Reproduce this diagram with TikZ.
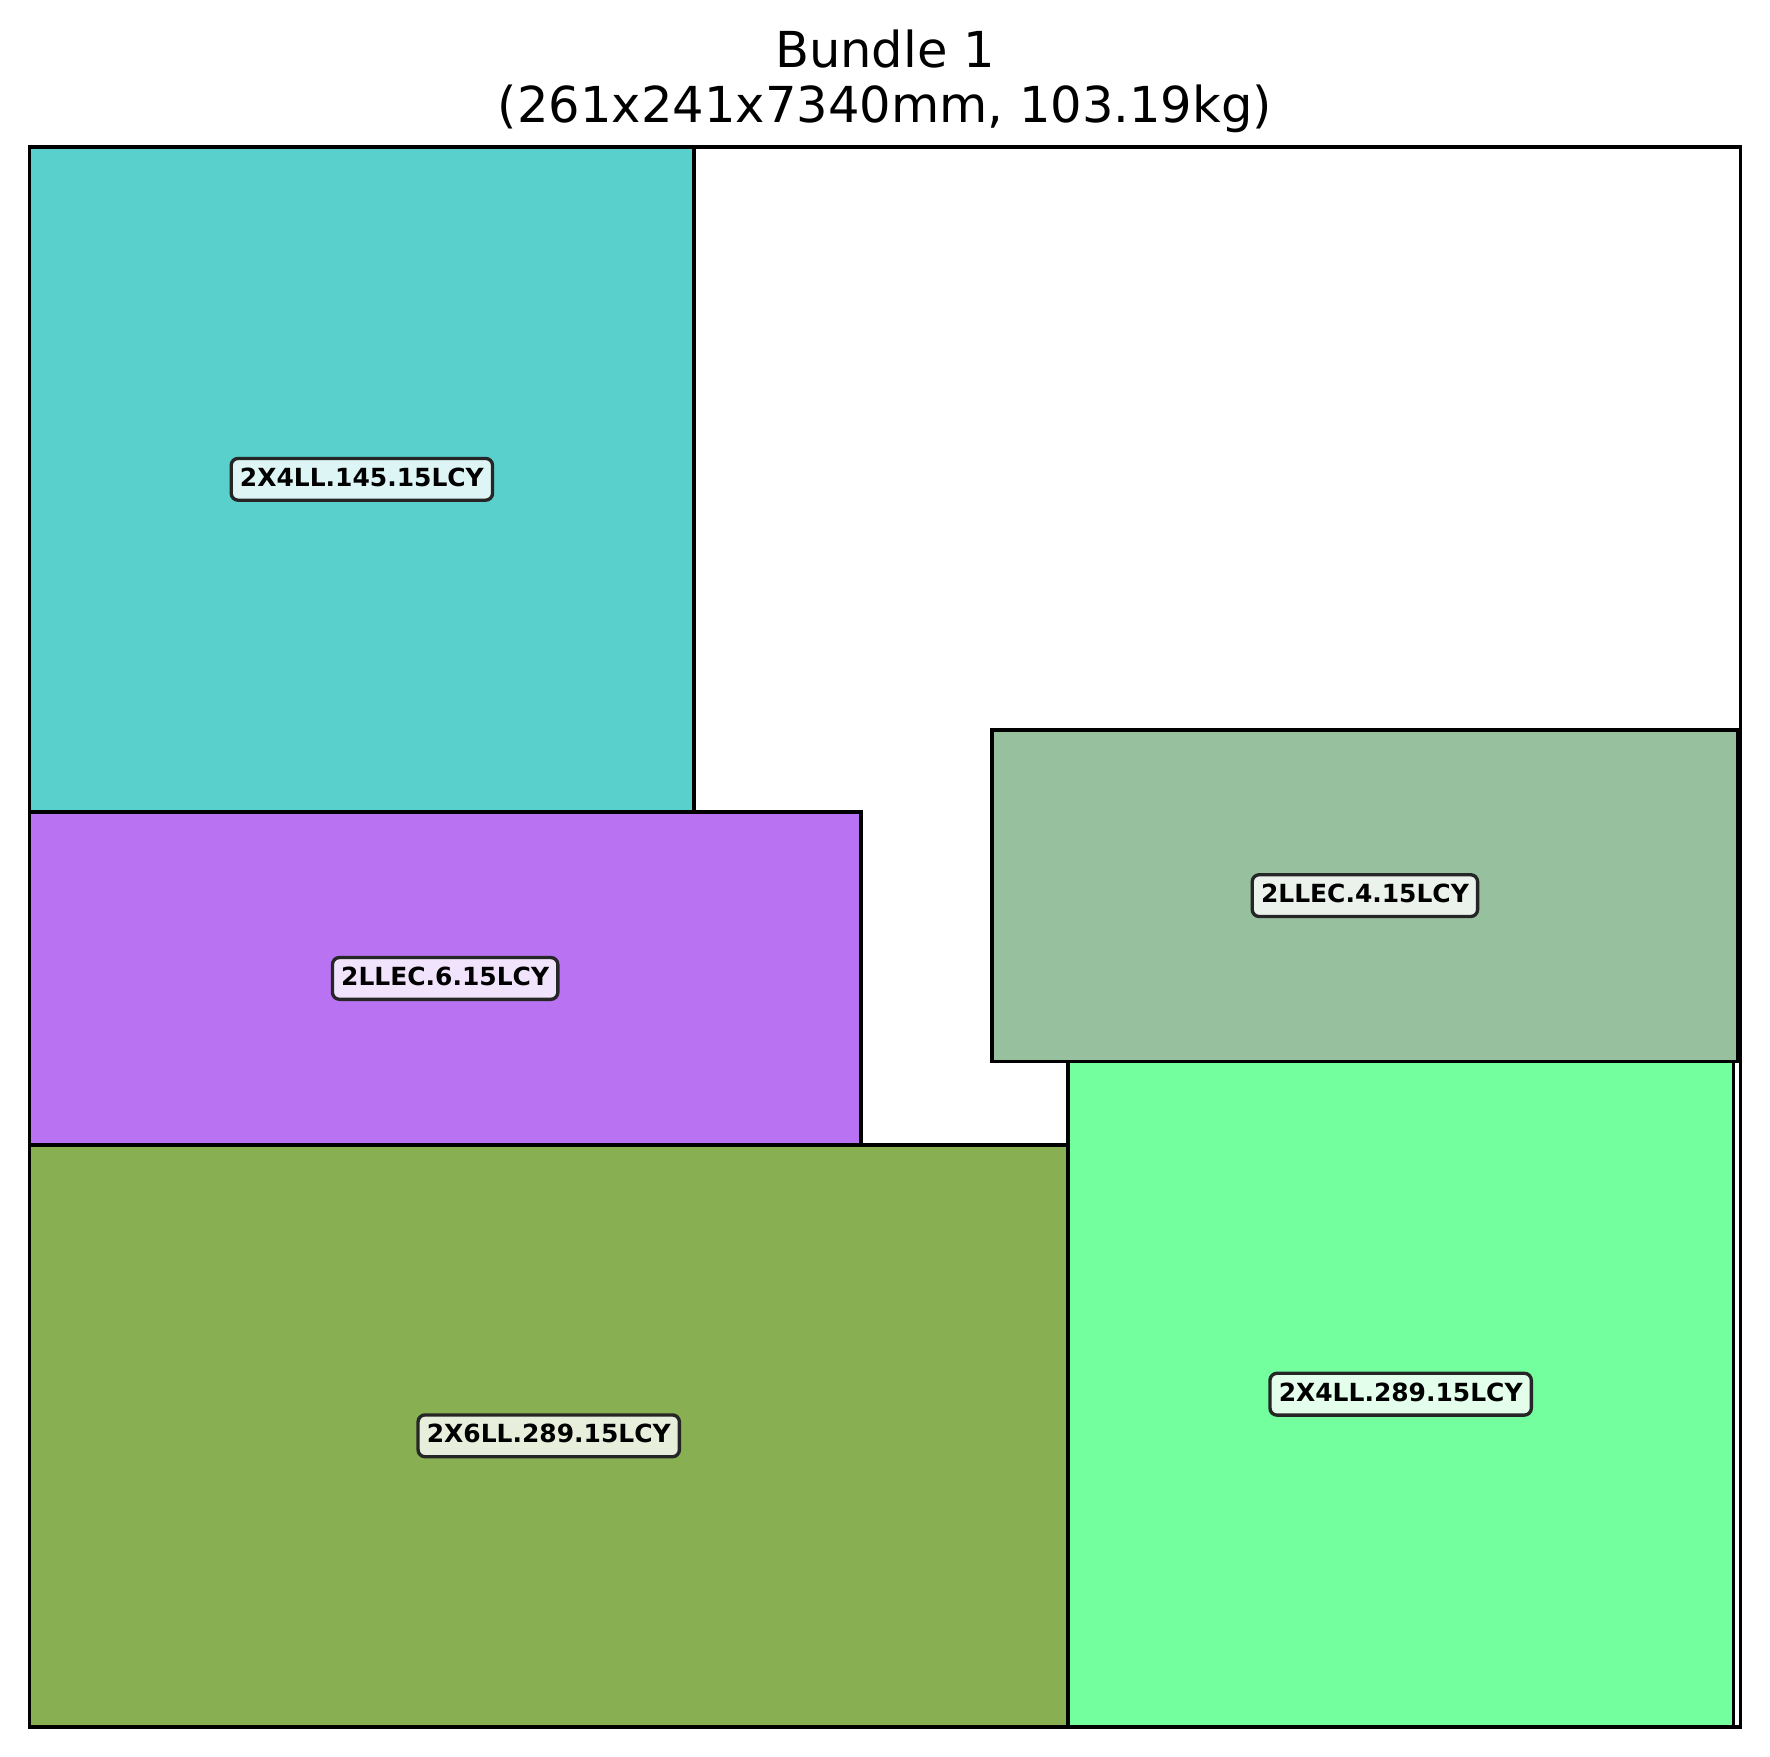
\documentclass[tikz,border=0pt]{standalone}
\usepackage{fontspec}
\setmainfont{DejaVu Sans}
\usetikzlibrary{positioning}
\definecolor{tealpc}{RGB}{89,208,203}
\definecolor{purplepc}{RGB}{185,115,242}
\definecolor{olivepc}{RGB}{136,176,83}
\definecolor{mintpc}{RGB}{115,255,158}
\definecolor{sagepc}{RGB}{151,193,158}
\tikzset{piece/.style={draw=black, line width=1.05pt},
    tag/.style={rectangle, rounded corners=2pt, draw=black!85, line width=0.95pt,
        fill=white, fill opacity=0.8, text opacity=1,
        font=\fontsize{7.1}{8}\selectfont\bfseries,
        inner xsep=2.5pt, inner ysep=2.6pt, text height=5.3pt, text depth=1.4pt},
    title/.style={font=\fontsize{14.1}{16}\selectfont, anchor=base}}

\begin{document}
\begin{tikzpicture}[x=0.06556cm, y=0.06556cm]
  \useasboundingbox (-4.5,-4.576) rectangle (265.49,263.42);

  % Bundle cross-section
  \draw[piece, fill=white] (0,0) rectangle (261,241);

  % Pieces
  \draw[piece, fill=tealpc] (0,139.57) rectangle (101.4,241);
  \draw[piece, fill=purplepc] (0,88.77) rectangle (126.79,139.57);
  \draw[piece, fill=olivepc] (0,0) rectangle (158.4,88.77);
  \draw[piece, fill=mintpc] (158.4,0) rectangle (259.9,101.5);
  \draw[piece, fill=sagepc] (146.77,101.5) rectangle (260.6,152.07);

  % Piece labels
  \node[tag] (p1) at (50.7,190.3) {2X4LL.145.15LCY};
  \node[tag] (p2) at (63.4,114.17) {2LLEC.6.15LCY};
  \node[tag] (p3) at (79.2,44.4) {2X6LL.289.15LCY};
  \node[tag] (p4) at (209.15,50.75) {2X4LL.289.15LCY};
  \node[tag] (p5) at (203.7,126.8) {2LLEC.4.15LCY};

  % Title
  \node[title] (t1) at (130.5,253.05) {Bundle 1};
  \node[title] (t2) at (130.5,244.66) {(261x241x7340mm, 103.19kg)};
\end{tikzpicture}
\end{document}
